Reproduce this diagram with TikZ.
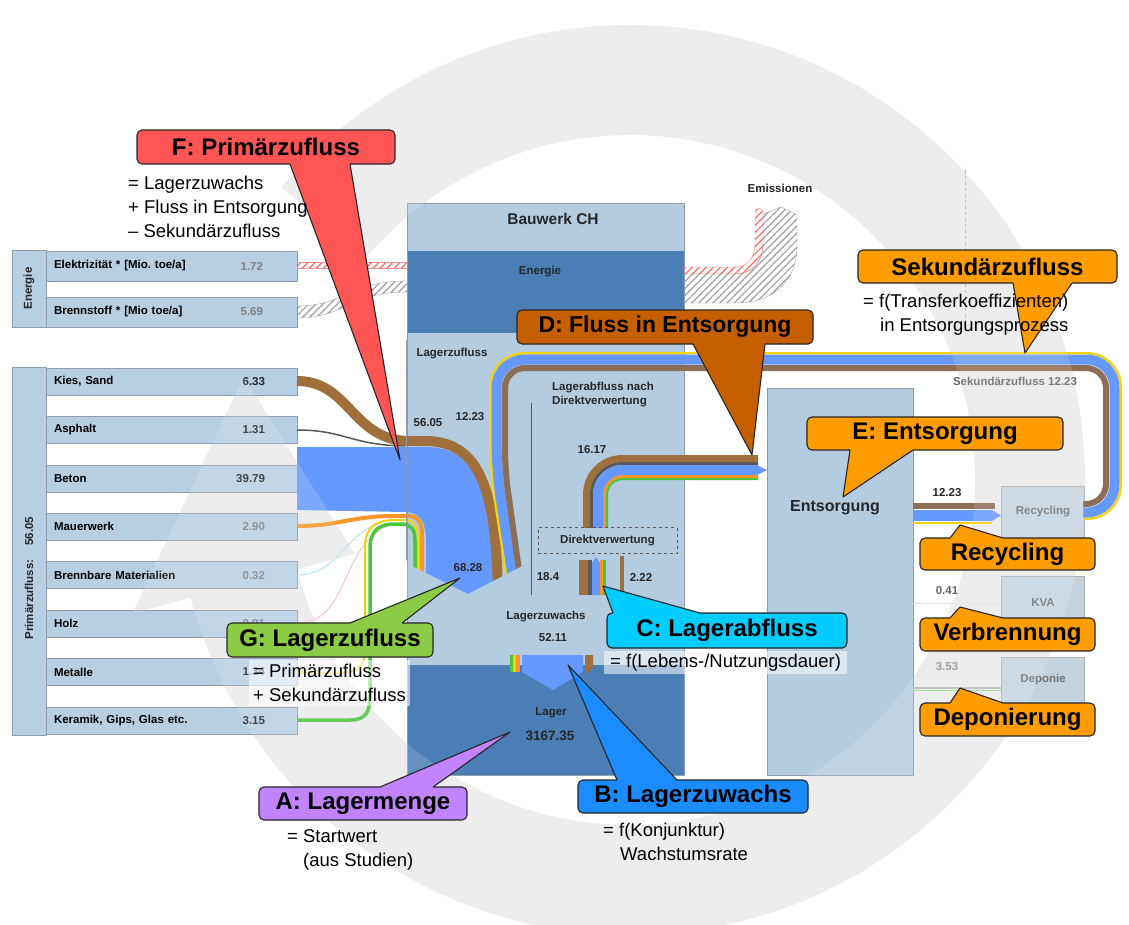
\documentclass[tikz,border=0pt]{standalone}
\usepackage{fontspec}
\setmainfont{Liberation Sans}
\usepackage{tikz}
\usetikzlibrary{positioning,calc,patterns.meta}

\definecolor{panel}{HTML}{B7CFE3}
\definecolor{panelline}{HTML}{8C9DAE}
\definecolor{bauwerk}{HTML}{B3CCE0}
\definecolor{darkband}{HTML}{4A7EB5}
\definecolor{flowblue}{HTML}{6699FF}
\definecolor{flowbrown}{HTML}{A0703C}
\definecolor{secbrown}{HTML}{8C6E55}
\definecolor{floworange}{HTML}{F5962A}
\definecolor{flowyellow}{HTML}{F5D20A}
\definecolor{flowgreen}{HTML}{4CC43C}
\definecolor{ring}{HTML}{EBEBEB}
\definecolor{greybox}{HTML}{C5D3DF}
\definecolor{calred}{HTML}{FF5555}
\definecolor{calbrown}{HTML}{C65F00}
\definecolor{calorange}{HTML}{FF9C00}
\definecolor{calcyan}{HTML}{00CCFF}
\definecolor{calblue}{HTML}{1A8CFF}
\definecolor{calpurple}{HTML}{C283FF}
\definecolor{calgreen}{HTML}{8BCB45}

\newcommand{\lblfont}{\fontsize{11.5}{14}\selectfont\bfseries}
\newcommand{\calfont}{\fontsize{24}{28}\selectfont\bfseries}
\newcommand{\notefont}{\fontsize{18.5}{24}\selectfont}
\newcommand{\titlefont}{\fontsize{15.5}{18}\selectfont\bfseries}

\newcommand{\pointer}[5]{%
  \fill[#1] ($#2+#5$) -- #2 -- #4 -- #3 -- ($#3+#5$) -- cycle;
  \draw[black!85, line width=1.1pt, line join=round] #2 -- #4 -- #3;}

\begin{document}
\begin{tikzpicture}[x=1pt,y=-1pt]
	\tikzstyle{panelbox}=[draw=panelline, fill=panel, inner sep=0pt]
	\tikzstyle{row}=[panelbox, minimum width=251pt, minimum height=27pt, inner xsep=8pt, text width=235pt, align=left, font=\lblfont]
	\tikzstyle{val}=[inner sep=0pt, font=\lblfont, text=black!85]
	\tikzstyle{lbl}=[inner sep=0pt, font=\lblfont, text=black!85]
	\tikzstyle{band}=[inner sep=0pt, fill=darkband, minimum width=276pt]
	\tikzstyle{sidebox}=[draw=gray!60, fill=greybox, minimum width=83pt, inner sep=0pt, font=\lblfont, text=black!55]
	\tikzstyle{callout}=[draw=black!85, line width=1.1pt, rounded corners=5pt, inner sep=0pt, font=\calfont]
	\tikzstyle{note}=[inner sep=0pt, anchor=north west, align=left, font=\notefont]
	\tikzstyle{hatch}=[pattern={Lines[angle=45,distance=5pt,line width=1.2pt]}]

	\fill[white] (0,0) rectangle (1129,924);
	\useasboundingbox (0,0) rectangle (1129,924);

	\begin{scope}[shift={(630,480)}]
		\fill[ring] (220:455) arc[start angle=220, end angle=525, radius=455] -- (525:345) arc[start angle=525, end angle=220, radius=345] -- cycle
			(165:285) -- (165:515) -- (195:400) -- cycle;
	\end{scope}

	% Energie
	\node[panelbox, minimum width=34pt, minimum height=77pt] (ecol) at (29,288.5) {};
	\node[lbl, rotate=90] (ecoltxt) at (ecol) {Energie};
	\node[row, minimum height=30pt] (elek) at (171.5,266) {Elektrizität * [Mio.\ toe/a]};
	\node[val, text=gray] (elekv) [left=34pt of elek.east] {1.72};
	\node[row, minimum height=30pt] (brenn) at (171.5,312) {Brennstoff * [Mio toe/a]};
	\node[val, text=gray] (brennv) [left=34pt of brenn.east] {5.69};

	% Primaerzufluss
	\node[panelbox, minimum width=34pt, minimum height=368pt] (pcol) at (29,551) {};
	\node[lbl, rotate=90] (pcoltxt) at (29,578) {Primärzufluss:\hspace{14pt}56.05};
	\node[row] (kies)  at (171.5,381.5) {Kies, Sand};
	\node[val] (kiesv) [left=32pt of kies.east] {6.33};
	\node[row] (asph)  at (171.5,429.9) {Asphalt};
	\node[val] (asphv) [left=32pt of asph.east] {1.31};
	\node[row] (beton) at (171.5,478.3) {Beton};
	\node[val] (betonv) [left=32pt of beton.east] {39.79};
	\node[row] (mauer) at (171.5,526.7) {Mauerwerk};
	\node[val, text=gray] (mauerv) [left=32pt of mauer.east] {2.90};
	\node[row] (brennbar) at (171.5,575.1) {Brennbare Materialien};
	\node[val, text=gray] (brennbarv) [left=32pt of brennbar.east] {0.32};
	\node[row] (holz)  at (171.5,623.5) {Holz};
	\node[val, text=gray] (holzv) [left=32pt of holz.east] {0.91};
	\node[row] (metall) at (171.5,671.9) {Metalle};
	\node[val] (metallv) [left=32pt of metall.east] {1.34};
	\node[row] (keramik) at (171.5,720.3) {Keramik, Gips, Glas etc.};
	\node[val] (keramikv) [left=32pt of keramik.east] {3.15};

	% Bauwerk und Entsorgung
	\node[draw=panelline, fill=bauwerk, minimum width=277pt, minimum height=572pt, inner sep=0pt] (bauwerk) at (545.5,489) {};
	\node[band, minimum height=82pt] (benergie) at (545.5,292) {};
	\node[band, minimum height=110pt] (blager) at (545.5,720) {};
	\node[draw=panelline, fill=bauwerk, minimum width=146pt, minimum height=387pt, inner sep=0pt] (entsorgung) at (840,581.5) {};
	\node[sidebox, minimum height=52pt] (recycling) at (1043,512) {Recycling};
	\node[sidebox, minimum height=54pt] (kva) at (1043,603) {KVA};
	\node[sidebox, minimum height=46pt] (deponie) at (1043,680) {Deponie};

	% Energiefluesse
	\fill[hatch, pattern color=red!60] (297,262) rectangle (407,268);
	\draw[red!45, line width=0.6pt] (297,262) -- (407,262) (297,268) -- (407,268);
	\path[draw=gray!70, hatch, pattern color=gray!75] (297,306) .. controls (345,306) and (350,281) .. (407,281) -- (407,292) .. controls (350,292) and (345,318) .. (297,318) -- cycle;
	\path[draw=gray!70, hatch, pattern color=gray!75] (684,274) -- (735,274) .. controls (752,274) and (763,262) .. (763,243) -- (763,214) -- (781,207) -- (797,215) -- (797,245) .. controls (797,285) and (770,303) .. (735,303) -- (684,303) -- cycle;
	\path[draw=red!45, hatch, pattern color=red!60] (684,267) -- (735,267) .. controls (748,267) and (755,258) .. (755,243) -- (755,212) .. controls (755,207) and (763,207) .. (763,212) -- (763,243) .. controls (763,262) and (752,274) .. (735,274) -- (684,274) -- cycle;

	% Primaerzufluss in Lager
	\fill[flowblue] (297,447) -- (425,447) .. controls (478,447) and (493,490) .. (494,600) -- (426,600) -- (426,540) .. controls (426,520) and (418,512) .. (405,512) -- (297,510) -- cycle;
	\draw[cyan!35, line width=0.8pt] (297,575) .. controls (340,575) and (345,530) .. (385,522);
	\draw[magenta!30, line width=0.8pt] (297,623) .. controls (350,623) and (340,545) .. (388,526);
	\draw[floworange, line width=4pt] (297,526) .. controls (340,526) and (350,516) .. (395,516) -- (408,516) .. controls (418,516) and (422,522) .. (422,535) -- (422,600);
	\draw[flowgreen, line width=3.5pt] (297,720) -- (350,720) .. controls (366,720) and (370,712) .. (370,695) -- (370,548) .. controls (370,532) and (378,524) .. (394,524) -- (402,524) .. controls (411,524) and (415,530) .. (415,540) -- (415,600);
	\draw[flowyellow, line width=2pt] (297,672) .. controls (340,672) and (365,680) .. (365,650) -- (365,546) .. controls (365,528) and (376,520) .. (394,520) -- (404,520) .. controls (414,520) and (418,527) .. (418,540) -- (418,600);
	\draw[gray!70!black, line width=1.5pt] (297,430) .. controls (345,430) and (350,445) .. (405,446);
	\draw[flowbrown, line width=10pt] (297,381) .. controls (350,381) and (352,441) .. (410,441) -- (425,441) .. controls (480,441) and (497,490) .. (498,600);
	\draw[panelline, line width=0.8pt] (bauwerk.north west |- 0,340) -- (bauwerk.west |- 0,560);

	% Sekundaerzufluss
	\draw[flowyellow, line width=2.4pt, rounded corners=34pt] (1083,518.8) -- (1120.8,518.8) -- (1120.8,353.2) -- (490.2,353.2) -- (490.2,470) -- (509,592);
	\draw[flowblue, line width=10pt, rounded corners=28pt] (1083,512.5) -- (1114.5,512.5) -- (1114.5,359.5) -- (496.5,359.5) -- (496.5,470) -- (515,592);
	\draw[secbrown, line width=6pt, rounded corners=20pt] (1083,504) -- (1106,504) -- (1106,368) -- (505,368) -- (505,470) -- (522,592);
	\fill[bauwerk] (407.6,565) -- (410,565) -- (468,594) -- (532,561) -- (532,605) -- (407.6,605) -- cycle;

	% Entsorgung -> Recycling
	\draw[secbrown, line width=6pt] (913,506) -- (995,506);
	\fill[flowblue] (913,510) -- (992,510) -- (1001,515.5) -- (992,521) -- (913,521) -- cycle;
	\draw[flowyellow, line width=2pt] (913,522.5) -- (992,522.5);
	\draw[gray!25, line width=1pt] (kva.west -| entsorgung.east) -- (kva.west);
	\draw[gray!55, line width=2pt] (entsorgung.east |- 0,688) -- (deponie.west |- 0,688);
	\draw[flowgreen!60, line width=1pt] (entsorgung.east |- 0,690.5) -- (deponie.west |- 0,690.5);

	% Lagerabfluss
	\draw[flowbrown, line width=7pt, rounded corners=36pt] (586.5,532) -- (586.5,458.5) -- (758,458.5);
	\draw[gray!70!black, line width=3pt, rounded corners=31pt] (591.5,532) -- (591.5,463.5) -- (758,463.5);
	\draw[flowblue, line width=10pt, rounded corners=25pt] (598,532) -- (598,470) -- (758,470);
	\draw[floworange, line width=3pt, rounded corners=19pt] (604.5,532) -- (604.5,476.5) -- (758,476.5);
	\draw[flowgreen, line width=2pt, rounded corners=16pt] (607,532) -- (607,479) -- (758,479);
	\fill[flowblue] (757,465) -- (767,470) -- (757,475) -- cycle;
	\node[draw=gray!70!black, dashed, fill=bauwerk, minimum width=139pt, minimum height=26pt, inner sep=0pt, font=\lblfont, text=black!85] (direkt) at (607.5,540.5) {Direktverwertung};
	\fill[flowbrown] (579,560) rectangle (588,595);
	\fill[gray!70!black] (588,560) rectangle (592,595);
	\fill[flowblue] (592,563) -- (596,557) -- (600,563) -- (600,595) -- (592,595) -- cycle;
	\fill[floworange] (600,560) rectangle (603,595);
	\fill[flowgreen] (603,560) rectangle (605.5,595);
	\fill[flowbrown] (620,556) rectangle (623.5,595);
	\draw[gray!70!black, line width=1pt] (531,403) -- (531,595);

	% Lagerzuwachs
	\fill[flowgreen] (510,655) rectangle (513,672);
	\fill[flowyellow] (513,655) rectangle (516,672);
	\fill[floworange] (516,655) rectangle (520,672);
	\fill[flowblue] (522,655) -- (583,655) -- (583,672) -- (553,690) -- (522,672) -- cycle;
	\fill[flowbrown] (585,655) -- (593,655) -- (593,668) -- (585,674) -- cycle;

	% Beschriftung
	\node[inner sep=0pt, font=\titlefont, text=black!85] (bwtitle) at (553,219) {Bauwerk CH};
	\node[lbl] (bwenergie) at (540,272) {Energie};
	\node[lbl] (bwzufluss) at (452,354) {Lagerzufluss};
	\node[lbl] (bwprim) at (428,423) {56.05};
	\node[lbl] (bwsek) at (470,417) {12.23};
	\node[lbl, anchor=north west, align=left] (bwabfluss) at (552,382) {Lagerabfluss nach\\Direktverwertung};
	\node[lbl] (bwentsorg) at (592,450) {16.17};
	\node[lbl] (bwlagerzu) at (468,568) {68.28};
	\node[lbl] (bwdirekt) at (548,577) {18.4};
	\node[lbl] (bwrest) at (641,577) {2.22};
	\node[lbl] (bwzuwachs) at (546,617) {Lagerzuwachs};
	\node[lbl] (bwzuwachsv) at (553,638) {52.11};
	\node[lbl] (bwlager) at (551,713) {Lager};
	\node[inner sep=0pt, font=\fontsize{13.5}{16}\selectfont\bfseries, text=black!85] (bwlagerv) at (550,736) {3167.35};
	\node[inner sep=0pt, font=\fontsize{16}{19}\selectfont\bfseries, text=black!85] (enttxt) at (835,508) {Entsorgung};
	\node[lbl] (emiss) at (780,188) {Emissionen};
	\node[lbl, text=black!60] (sektxt) at (1015,381) {Sekundärzufluss 12.23};
	\node[lbl] (recv) at (947,493) {12.23};
	\node[lbl, text=black!60] (kvav) at (947,591) {0.41};
	\node[lbl, text=black!45] (depv) at (947,667) {3.53};
	\draw[gray!60, dashed, line width=1pt] (965,170) -- (965,330);

	\begin{scope}[shift={(630,480)}]
		\fill[white, opacity=.15] (220:455) arc[start angle=220, end angle=525, radius=455] -- (525:345) arc[start angle=525, end angle=220, radius=345] -- cycle
			(165:285) -- (165:515) -- (195:400) -- cycle;
	\end{scope}

	% Hinweise
	\node[callout, fill=calred, minimum width=258pt, minimum height=34pt] (calF) at (266,147) {F: Primärzufluss};
	\pointer{calred}{(290,164)}{(350,164)}{(400,460)}{(0,-2)}
	\node[callout, fill=calbrown, minimum width=296pt, minimum height=34pt, font=\fontsize{23}{27}\selectfont\bfseries] (calD) at (665,327) {D: Fluss in Entsorgung};
	\pointer{calbrown}{(693,344)}{(765,344)}{(752,455)}{(0,-2)}
	\node[callout, fill=calorange, minimum width=259pt, minimum height=33pt] (calS) at (987.5,266.5) {Sekundärzufluss};
	\pointer{calorange}{(1013,283)}{(1072,283)}{(1025,353)}{(0,-2)}
	\node[callout, fill=calorange, minimum width=256pt, minimum height=33pt] (calE) at (935,433.5) {E: Entsorgung};
	\pointer{calorange}{(850,450)}{(913,450)}{(843,497)}{(0,-2)}
	\node[callout, fill=calorange, minimum width=175pt, minimum height=32pt] (calRec) at (1007.5,554) {Recycling};
	\pointer{calorange}{(950,538)}{(1003,538)}{(960,525)}{(0,2)}
	\node[callout, fill=calorange, minimum width=175pt, minimum height=33pt] (calVer) at (1007.5,634.5) {Verbrennung};
	\pointer{calorange}{(950,618)}{(1003,618)}{(960,607)}{(0,2)}
	\node[callout, fill=calorange, minimum width=175pt, minimum height=33pt] (calDep) at (1007.5,719.5) {Deponierung};
	\pointer{calorange}{(950,703)}{(1003,703)}{(960,688)}{(0,2)}
	\node[callout, fill=calcyan, minimum width=240pt, minimum height=35pt] (calC) at (727,630.5) {C: Lagerabfluss};
	\pointer{calcyan}{(613,613)}{(700,613)}{(603,586)}{(0,2)}
	\node[callout, fill=calblue, minimum width=230pt, minimum height=33pt] (calB) at (693,796.5) {B: Lagerzuwachs};
	\pointer{calblue}{(617,780)}{(677,780)}{(568,665)}{(0,2)}
	\node[callout, fill=calpurple, minimum width=208pt, minimum height=33pt] (calA) at (363,803.5) {A: Lagermenge};
	\pointer{calpurple}{(380,787)}{(433,787)}{(510,732)}{(0,2)}
	\node[callout, fill=calgreen, minimum width=206pt, minimum height=34pt] (calG) at (330,640) {G: Lagerzufluss};
	\pointer{calgreen}{(350,623)}{(402,623)}{(460,578)}{(0,2)}

	\node[note] (noteF) at (128,176) {= Lagerzuwachs\\+ Fluss in Entsorgung\\– Sekundärzufluss};
	\node[note] (noteS) at (863,294) {= f(Transferkoeffizienten)\\\hspace*{17pt}in Entsorgungsprozess};
	\node[note, fill=white, fill opacity=.55, text opacity=1, inner xsep=6pt, inner ysep=3pt] (noteC) at (604,651) {= f(Lebens-/Nutzungsdauer)};
	\node[note, fill=white, fill opacity=.55, text opacity=1, inner sep=4pt] (noteG) at (249,660) {= Primärzufluss\\+ Sekundärzufluss};
	\node[note] (noteA) at (287,829) {= Startwert\\\hspace*{16pt}(aus Studien)};
	\node[note] (noteB) at (603,823) {= f(Konjunktur)\\\hspace*{17pt}Wachstumsrate};
\end{tikzpicture}
\end{document}
